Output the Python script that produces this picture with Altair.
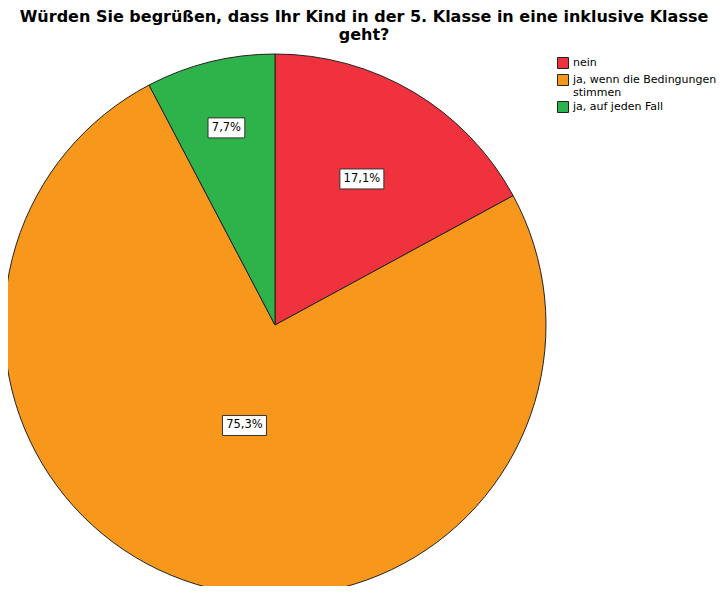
import altair as alt
import pandas as pd

categories = ["nein", "ja, wenn die Bedingungen stimmen", "ja, auf jeden Fall"]
percents = [17.1, 75.3, 7.7]
colors = ["#EF323D", "#F7981D", "#2EB34B"]

df = pd.DataFrame({"Antwort": categories, "Prozent": percents, "order": [0, 1, 2]})

CX, CY, R = 267, 267, 271

base = alt.Chart(df)

pie = base.mark_arc(stroke="#222222", strokeWidth=1, radius=R).encode(
    theta=alt.Theta("Prozent:Q", stack=True),
    order=alt.Order("order:Q"),
    x=alt.value(CX),
    y=alt.value(CY),
    color=alt.Color(
        "Antwort:N",
        scale=alt.Scale(domain=categories, range=colors),
        sort=categories,
        legend=alt.Legend(
            title=None,
            orient="none",
            legendX=549,
            legendY=-1,
            padding=0,
            symbolType="square",
            symbolSize=121,
            symbolStrokeColor="#222222",
            symbolStrokeWidth=1,
            symbolOpacity=1,
            labelFont="DejaVu Sans",
            labelFontSize=11,
            labelColor="#000000",
            labelOffset=4,
            labelLimit=200,
            rowPadding=1,
            labelExpr="datum.label == 'ja, wenn die Bedingungen stimmen' ? ['ja, wenn die Bedingungen', 'stimmen'] : datum.label",
        ),
    ),
)

lab = base.transform_window(
    cum="sum(Prozent)", sort=[alt.SortField("order")]
).transform_joinaggregate(
    total="sum(Prozent)"
).transform_calculate(
    mid="(datum.cum - datum.Prozent / 2) / datum.total * 2 * PI",
    rr="105 + 98 * pow((75.3 - datum.Prozent) / 67.6, 2.75)",
    lx=f"{CX} + datum.rr * sin(datum.mid)",
    ly=f"{CY} - datum.rr * cos(datum.mid)",
    txt="replace(format(datum.Prozent, '.1f'), '.', ',') + '%'",
    w="length(datum.txt) * 7.2 + 8",
    x1="datum.lx - datum.w / 2",
    x2="datum.lx + datum.w / 2",
    y1="datum.ly - 10",
    y2="datum.ly + 10",
)

boxes = lab.mark_rect(fill="white", stroke="#333333", strokeWidth=1).encode(
    x=alt.X("x1:Q", scale=None),
    x2="x2:Q",
    y=alt.Y("y1:Q", scale=None),
    y2="y2:Q",
)

texts = lab.mark_text(
    font="DejaVu Sans", fontSize=11.5, color="#000000", align="center", baseline="middle"
).encode(
    x=alt.X("lx:Q", scale=None),
    y=alt.Y("ly:Q", scale=None),
    text="txt:N",
)

chart = (
    alt.layer(pie, boxes, texts)
    .properties(
        width=712,
        height=528,
        padding={"left": 0, "top": 50, "right": 0, "bottom": 0},
        autosize=alt.AutoSizeParams(type="none"),
        title=alt.TitleParams(
            text=["Würden Sie begrüßen, dass Ihr Kind in der 5. Klasse in eine inklusive Klasse", "geht?"],
            font="DejaVu Sans",
            fontSize=16,
            fontWeight="bold",
            color="#000000",
            anchor="middle",
            frame="group",
            offset=9,
            lineHeight=18,
        ),
    )
    .configure_view(stroke=None)
)

chart.save("out.html", embed_options={"renderer": "svg", "actions": False})
